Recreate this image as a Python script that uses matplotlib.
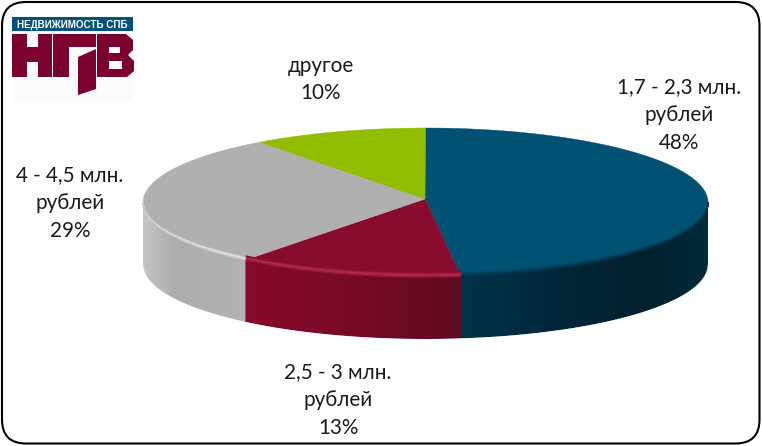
import numpy as np
import matplotlib
matplotlib.use("Agg")
import matplotlib.pyplot as plt
from matplotlib.patches import Polygon, FancyBboxPatch, Rectangle
from matplotlib.colors import to_rgb

# Data
categories = ["1,7 - 2,3 млн.\nрублей", "2,5 - 3 млн.\nрублей", "4 - 4,5 млн.\nрублей", "другое"]
values = [48, 13, 29, 10]
top_colors = ["#005172", "#870C2E", "#B0B0B0", "#91BD00"]
label_centers = [(679, 115), (338, 400), (70, 203), (321, 79.5)]

# Geometry (pixels)
CX, CY, A, B = 425.5, 202.5, 282.5, 74.5
HUB = (425, 199)
DEPTH = 62

# Side gradients: (x pixel, colour) stops per slice
side_stops = [
    [(460, "#003349"), (560, "#002739"), (640, "#00202E"), (708, "#002A3A")],
    [(245, "#870A2C"), (340, "#7A0A28"), (460, "#5F0A1F")],
    [(143, "#C4C4C4"), (175, "#ADADAD"), (245, "#B2B2B2")],
    [(0, "#6E9000"), (762, "#6E9000")],
]
# Rim bevel colour per slice, and weight by offset in pixels from the rim
bevel_colors = ["#00304A", "#BC2E55", "#E4E4E4", "#91BD00"]
bevel_weights = {
    0: [1.0, 0.8, 0.55, 0.3, 0.12, 0.0],
    1: [0.35, 0.75, 0.9, 0.5, 0.2, 0.0],
    2: [0.45, 0.9, 1.0, 0.55, 0.2, 0.0],
    3: [0, 0, 0, 0, 0, 0],
}

fig = plt.figure(figsize=(7.62, 4.46), dpi=100, facecolor="white")
ax = fig.add_axes([0, 0, 1, 1])
ax.set_xlim(0, 762)
ax.set_ylim(446, 0)
ax.axis("off")

# Frame
ax.add_patch(FancyBboxPatch((2, 2), 757.5, 441.5, boxstyle="round,pad=0,rounding_size=24",
                            fc="white", ec="black", lw=1.5, zorder=1))


def rim(theta, b=B):
    return CX + A * np.sin(theta), CY - b * np.cos(theta)


fractions = np.array(values, dtype=float) / sum(values)
edges = np.concatenate([[0], np.cumsum(fractions)]) * 2 * np.pi

# Sides: visible for theta between 90 and 270 degrees
px = np.arange(0, 762)
for i in range(len(values)):
    t0 = max(edges[i], np.pi / 2)
    t1 = min(edges[i + 1], 3 * np.pi / 2)
    if t1 <= t0:
        continue
    if t1 < 3 * np.pi / 2:
        t1 += 0.008  # slip under the next slice so no seam shows
    ts = np.linspace(t0, t1, 240)
    xs, ys = rim(ts)
    outline = list(zip(xs, ys)) + list(zip(xs[::-1], ys[::-1] + DEPTH))
    stops_x = [s[0] for s in side_stops[i]]
    stops_c = np.array([to_rgb(s[1]) for s in side_stops[i]])
    grad = np.stack([np.interp(px, stops_x, stops_c[:, k]) for k in range(3)], axis=-1)[None, :, :]
    im = ax.imshow(grad, extent=(0, 762, 446, 0), aspect="auto", interpolation="nearest", zorder=2)
    clip = Polygon(outline, closed=True, transform=ax.transData, fc="none", ec="none")
    ax.add_patch(clip)
    im.set_clip_path(clip)
    # soften the lower edge of the clipped gradient
    ax.plot(xs, ys + DEPTH + 0.5, color="white", lw=0.7, alpha=0.6, zorder=2.5)
ax.set_xlim(0, 762)
ax.set_ylim(446, 0)

# Top faces
for i in range(len(values)):
    ts = np.linspace(edges[i], edges[i + 1], 240)
    xs, ys = rim(ts)
    pts = [HUB] + list(zip(xs, ys))
    ax.add_patch(Polygon(pts, closed=True, fc=top_colors[i], ec=top_colors[i], lw=0.3, zorder=3))

# Rim bevel on the visible front edge
for i in range(len(values)):
    t0 = max(edges[i], np.pi / 2)
    t1 = min(edges[i + 1], 3 * np.pi / 2)
    if t1 <= t0:
        continue
    ts = np.linspace(t0, t1, 200)
    top = np.array(to_rgb(top_colors[i]))
    bev = np.array(to_rgb(bevel_colors[i]))
    for d, w in reversed(list(enumerate(bevel_weights[i]))):
        xs, ys = rim(ts, B - d)
        col = top + (bev - top) * w
        ax.plot(xs, ys, color=col, lw=1.0, zorder=4, solid_capstyle="butt")

# Labels
for cat, val, (x, y) in zip(categories, values, label_centers):
    ax.text(x, y, f"{cat}\n{val}%", ha="center", va="center", multialignment="center",
            fontsize=14.9, family=["Lato", "Open Sans"], color="#1a1a1a", linespacing=1.49, zorder=6)

# Logo
MAROON = "#7B0030"
ax.add_patch(Rectangle((12, 17), 121, 85, fc="#FBFBFB", ec="none", zorder=2))
ax.add_patch(Rectangle((12, 17), 121, 14, fc="#00527A", ec="none", zorder=5))
ax.text(72.5, 24.5, "НЕДВИЖИМОСТЬ СПБ", ha="center", va="center", color="white",
        fontsize=7.1, fontweight="bold", family="Liberation Sans", zorder=6)
logo_polys = [
    [(12, 34), (27, 34), (27, 47), (38, 47), (38, 34), (52, 34), (52, 77), (38, 77), (38, 62), (27, 62), (27, 77), (12, 77)],
    [(53, 34), (96, 34), (96, 47), (69, 47), (69, 77), (53, 77)],
    [(78, 57), (96, 49), (96, 89), (78, 95)],
    [(97, 34), (126, 34), (133, 40), (133, 50), (128, 55), (134, 61), (134, 71), (127, 77), (97, 77)],
]
for p in logo_polys:
    ax.add_patch(Polygon(p, closed=True, fc=MAROON, ec="none", zorder=5))
for r in [(109, 47, 11, 6), (109, 61, 13, 8)]:
    ax.add_patch(Rectangle(r[:2], r[2], r[3], fc="#FBFBFB", ec="none", zorder=6))

fig.savefig("out.png", dpi=100)
